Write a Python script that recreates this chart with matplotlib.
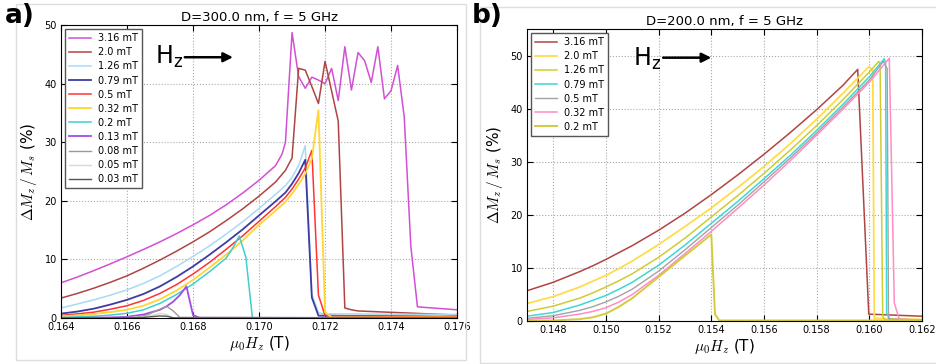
import matplotlib
matplotlib.use("Agg")
import matplotlib.pyplot as plt
from matplotlib.patches import Rectangle
import numpy as np

plt.rcParams['mathtext.fontset'] = 'cm'

# ---- panel a: D = 300 nm ----
h_a = [0.164, 0.1645, 0.165, 0.1655, 0.166, 0.1665, 0.167, 0.1675,
       0.168, 0.1685, 0.169, 0.1695, 0.170, 0.1705]

a_316_y = [6.0, 7.0, 8.1, 9.25, 10.45, 11.7, 13.0, 14.4, 15.9, 17.5, 19.3, 21.3, 23.5, 26.0]
a_316_tx = [0.1707, 0.1708, 0.1710, 0.1712, 0.1714, 0.1716, 0.1718, 0.1720, 0.1722,
            0.1724, 0.1726, 0.1728, 0.1730, 0.1732, 0.1734, 0.1736, 0.1738, 0.1740,
            0.1742, 0.1744, 0.1746, 0.1748, 0.1760]
a_316_ty = [28.0, 30.0, 48.7, 41.2, 39.2, 41.1, 40.6, 40.0, 42.6, 37.1, 46.3, 38.9,
            45.3, 43.9, 40.2, 46.3, 37.4, 38.8, 43.1, 34.3, 12.2, 1.9, 1.4]

a_20_y = [3.4, 4.2, 5.1, 6.1, 7.2, 8.5, 9.9, 11.4, 13.0, 14.7, 16.6, 18.6, 20.8, 23.2]
a_20_tx = [0.1708, 0.1710, 0.1712, 0.1714, 0.1716, 0.1718, 0.1720, 0.1722, 0.1724,
           0.1726, 0.1728, 0.1730, 0.1760]
a_20_ty = [25.2, 27.3, 42.6, 42.3, 39.5, 36.6, 43.8, 38.7, 33.6, 1.7, 1.4, 1.2, 0.5]

a_126_y = [1.7, 2.4, 3.1, 3.9, 4.8, 5.9, 7.2, 8.8, 10.5, 12.3, 14.3, 16.4, 18.7, 21.1]
a_126_tx = [0.1708, 0.1710, 0.1712, 0.1714, 0.1716, 0.1718, 0.1720, 0.1760]
a_126_ty = [22.6, 24.0, 26.0, 29.4, 4.0, 0.9, 0.7, 0.6]

a_079_y = [0.75, 1.1, 1.6, 2.3, 3.1, 4.1, 5.4, 7.0, 8.8, 10.8, 12.9, 15.1, 17.5, 19.9]
a_079_tx = [0.1708, 0.1710, 0.1712, 0.1714, 0.1716, 0.1718, 0.1760]
a_079_ty = [21.4, 22.9, 24.7, 27.0, 3.5, 0.4, 0.2]

a_05_y = [0.45, 0.7, 1.0, 1.5, 2.1, 3.0, 4.2, 5.7, 7.5, 9.5, 11.7, 14.0, 16.5, 19.0]
a_05_tx = [0.1708, 0.1710, 0.1712, 0.1714, 0.1716, 0.1718, 0.1720, 0.1760]
a_05_ty = [20.6, 22.0, 23.7, 25.6, 28.6, 3.9, 0.4, 0.2]

a_032_y = [0.3, 0.45, 0.7, 1.0, 1.4, 2.1, 3.2, 4.7, 6.5, 8.6, 10.8, 13.2, 15.9, 18.3]
a_032_tx = [0.1708, 0.1710, 0.1712, 0.1714, 0.1716, 0.1718, 0.1720, 0.1722, 0.1760]
a_032_ty = [19.8, 21.2, 22.8, 24.6, 27.2, 35.5, 1.0, 0.1, 0.1]

a_02_x = [0.164, 0.1645, 0.165, 0.1655, 0.166, 0.1665, 0.167, 0.1675, 0.168,
          0.1685, 0.169, 0.1692, 0.1694, 0.1696, 0.1698, 0.176]
a_02_y = [0.1, 0.2, 0.3, 0.5, 0.8, 1.4, 2.5, 4.0, 5.8, 7.9, 10.2, 11.9, 14.0, 10.4, 0.0, 0.0]

a_013_x = [0.164, 0.165, 0.1655, 0.166, 0.1665, 0.167, 0.1672, 0.1674, 0.1676,
           0.1678, 0.1680, 0.1682, 0.176]
a_013_y = [0.0, 0.05, 0.1, 0.2, 0.6, 1.4, 2.0, 2.8, 3.9, 5.4, 0.5, 0.05, 0.0]

a_008_x = [0.164, 0.1662, 0.1666, 0.1670, 0.1672, 0.1674, 0.1676, 0.176]
a_008_y = [0.0, 0.05, 0.5, 1.5, 2.0, 1.2, 0.1, 0.0]

a_005_x = [0.164, 0.1664, 0.1668, 0.1670, 0.1672, 0.1674, 0.176]
a_005_y = [0.0, 0.1, 0.5, 0.8, 0.6, 0.05, 0.0]

a_003_x = [0.164, 0.1664, 0.1668, 0.1670, 0.1672, 0.1674, 0.176]
a_003_y = [0.0, 0.05, 0.25, 0.35, 0.3, 0.02, 0.0]

# ---- panel b: D = 200 nm ----
h_b = [0.147, 0.148, 0.149, 0.1495, 0.150, 0.1505, 0.151, 0.152, 0.153, 0.154, 0.155,
       0.156, 0.157, 0.158, 0.159]

b_316_y = [5.7, 7.3, 9.3, 10.4, 11.6, 12.9, 14.2, 17.1, 20.3, 23.8, 27.5, 31.4, 35.5, 39.8, 44.4]
b_316_tx = [0.15956, 0.15998, 0.162]
b_316_ty = [47.4, 1.3, 0.9]

b_20_y = [3.3, 4.6, 6.4, 7.5, 8.6, 9.9, 11.3, 14.4, 17.8, 21.3, 25.1, 29.1, 33.4, 38.0, 42.9]
b_20_tx = [0.15998, 0.16013, 0.16019, 0.162]
b_20_ty = [47.9, 47.3, 0.5, 0.3]

b_126_y = [1.8, 2.8, 4.3, 5.3, 6.4, 7.6, 8.9, 12.0, 15.6, 19.6, 23.6, 27.8, 32.2, 36.8, 41.7]
b_126_tx = [0.160, 0.16036, 0.16041, 0.16051, 0.1606, 0.162]
b_126_ty = [46.9, 48.9, 48.4, 0.8, 0.2, 0.2]

b_079_y = [0.9, 1.6, 3.0, 3.9, 4.8, 6.0, 7.3, 10.5, 14.3, 18.4, 22.5, 26.8, 31.2, 35.9, 40.8]
b_079_tx = [0.160, 0.16057, 0.16062, 0.16066, 0.1608, 0.162]
b_079_ty = [46.0, 49.4, 48.5, 1.4, 0.2, 0.2]

b_05_y = [0.5, 1.0, 2.0, 2.7, 3.6, 4.7, 6.0, 9.4, 13.4, 17.6, 21.8, 26.2, 30.7, 35.4, 40.3]
b_05_tx = [0.160, 0.16053, 0.16068, 0.16073, 0.162]
b_05_ty = [45.4, 48.9, 47.5, 0.4, 0.2]

b_032_y = [0.3, 0.6, 1.3, 1.8, 2.5, 3.6, 5.0, 8.6, 12.7, 16.9, 21.2, 25.6, 30.2, 35.0, 39.9]
b_032_tx = [0.160, 0.16076, 0.16095, 0.16114, 0.162]
b_032_ty = [45.0, 49.5, 3.4, 0.3, 0.2]

b_02_x = [0.147, 0.148, 0.149, 0.1495, 0.150, 0.1505, 0.151, 0.152, 0.153, 0.154,
          0.15414, 0.1543, 0.162]
b_02_y = [0.0, 0.1, 0.35, 0.7, 1.4, 2.7, 4.3, 8.3, 12.3, 16.3, 1.3, 0.1, 0.1]

a_series = [
    ('3.16 mT', h_a + a_316_tx, a_316_y + a_316_ty, '#d24fd6', 1.1),
    ('2.0 mT', h_a + a_20_tx, a_20_y + a_20_ty, '#b04444', 1.1),
    ('1.26 mT', h_a + a_126_tx, a_126_y + a_126_ty, '#a8daf2', 1.1),
    ('0.79 mT', h_a + a_079_tx, a_079_y + a_079_ty, '#3c3ca4', 1.3),
    ('0.5 mT', h_a + a_05_tx, a_05_y + a_05_ty, '#ff3333', 1.1),
    ('0.32 mT', h_a + a_032_tx, a_032_y + a_032_ty, '#ffd633', 1.3),
    ('0.2 mT', a_02_x, a_02_y, '#3fcfcf', 1.1),
    ('0.13 mT', a_013_x, a_013_y, '#a64ae6', 1.3),
    ('0.08 mT', a_008_x, a_008_y, '#999999', 1.0),
    ('0.05 mT', a_005_x, a_005_y, '#d9d9d9', 1.0),
    ('0.03 mT', a_003_x, a_003_y, '#555555', 1.0),
]

b_series = [
    ('3.16 mT', h_b + b_316_tx, b_316_y + b_316_ty, '#b04444', 1.1),
    ('2.0 mT', h_b + b_20_tx, b_20_y + b_20_ty, '#ffdc4a', 1.3),
    ('1.26 mT', h_b + b_126_tx, b_126_y + b_126_ty, '#cfcb33', 1.1),
    ('0.79 mT', h_b + b_079_tx, b_079_y + b_079_ty, '#3fd6d6', 1.1),
    ('0.5 mT', h_b + b_05_tx, b_05_y + b_05_ty, '#a3a3a3', 1.0),
    ('0.32 mT', h_b + b_032_tx, b_032_y + b_032_ty, '#ff8cc6', 1.1),
    ('0.2 mT', b_02_x, b_02_y, '#d2cc3c', 1.4),
]

fig = plt.figure(figsize=(9.36, 3.64), dpi=100)
ax1 = fig.add_axes([0.0652, 0.1264, 0.4231, 0.8049])
ax2 = fig.add_axes([0.5630, 0.1181, 0.4220, 0.8022])

# panel frames
fig.add_artist(Rectangle((16 / 936, 4 / 364), 450 / 936, 356 / 364, transform=fig.transFigure,
                         fill=False, edgecolor='#dddddd', lw=1))
fig.add_artist(Rectangle((480 / 936, 1 / 364), 460 / 936, 356 / 364, transform=fig.transFigure,
                         fill=False, edgecolor='#dddddd', lw=1))


def style(ax, series, title, xlim, ylim, xticks, yticks, hz_pos, arrow):
    for lab, xs, ys, c, lw in series:
        ax.plot(xs, ys, color=c, lw=lw, label=lab)
    ax.set_xlim(*xlim)
    ax.set_ylim(*ylim)
    ax.set_xticks(xticks)
    ax.set_xticklabels(['%.3f' % t for t in xticks])
    ax.set_yticks(yticks)
    ax.tick_params(direction='in', top=True, right=True, labelsize=7, length=4, pad=3)
    ax.grid(True, ls=':', color='#aaaaaa', lw=0.8)
    ax.set_title(title, fontsize=9.5, pad=3)
    ax.set_xlabel(r'$\mu_0H_z$ (T)', fontsize=11, labelpad=1)
    ax.set_ylabel(r'$\Delta M_z\,/\,M_s$ (%)', fontsize=11, labelpad=4)
    leg = ax.legend(loc='upper left', fontsize=7, handlelength=2.2, labelspacing=0.42,
                    borderaxespad=0.45, fancybox=False, framealpha=1, borderpad=0.4)
    leg.get_frame().set_edgecolor('#555555')
    ax.text(hz_pos[0], hz_pos[1], r'H$_\mathregular{z}$', fontsize=17)
    ax.annotate('', xy=arrow[1], xytext=arrow[0],
                arrowprops=dict(arrowstyle='-|>', color='k', lw=1.8, mutation_scale=14,
                                shrinkA=0, shrinkB=0))


style(ax1, a_series, 'D=300.0 nm, f = 5 GHz', (0.164, 0.176), (0, 50),
      np.arange(0.164, 0.1761, 0.002), [0, 10, 20, 30, 40, 50],
      (0.16685, 43.3), ((0.16775, 44.5), (0.16921, 44.5)))
style(ax2, b_series, 'D=200.0 nm, f = 5 GHz', (0.147, 0.162), (0, 55),
      np.arange(0.148, 0.1621, 0.002), [0, 10, 20, 30, 40, 50],
      (0.15103, 48.1), ((0.15217, 49.6), (0.15400, 49.6)))

fig.text(5 / 936, 1 - 3 / 364, 'a)', fontsize=19, fontweight='bold', va='top', ha='left')
fig.text(472 / 936, 1 - 3 / 364, 'b)', fontsize=19, fontweight='bold', va='top', ha='left')

fig.savefig('out.png', dpi=100)
